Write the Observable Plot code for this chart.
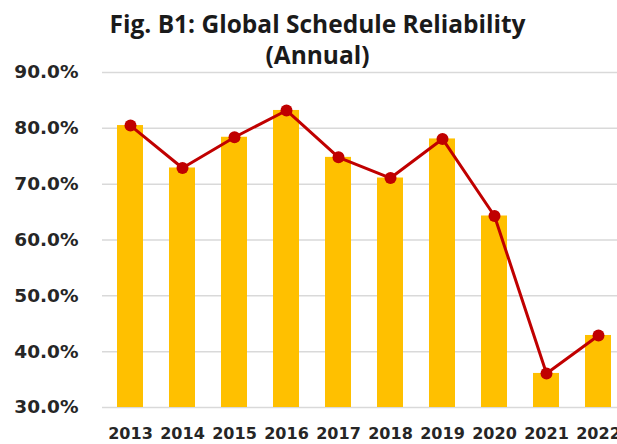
<!DOCTYPE html>
<html>
<head>
<meta charset="utf-8">
<script src="https://cdn.jsdelivr.net/npm/d3@7"></script>
<script src="https://cdn.jsdelivr.net/npm/@observablehq/plot@0.6"></script>
<style>
  html, body { margin: 0; padding: 0; background: #fff; overflow: hidden; width: 617px; height: 444px; }
  #title { width: 617px; height: 64px; box-sizing: border-box; padding-top: 8px; padding-left: 18px;
    text-align: center; font-family: "Open Sans", sans-serif; font-weight: bold; font-size: 24.5px;
    line-height: 31px; color: #1a1a1a; white-space: nowrap; }
  #chart svg { display: block; overflow: visible; }
</style>
</head>
<body>
<div id="title">Fig. B1: Global Schedule Reliability<br>(Annual)</div>
<div id="chart"></div>
<script>
const years = ["2013","2014","2015","2016","2017","2018","2019","2020","2021","2022"];
const reliability = [80.5, 72.9, 78.4, 83.2, 74.8, 71.1, 78.1, 64.3, 36.1, 42.9];
const yTicks = [30, 40, 50, 60, 70, 80, 90];

const data = years.map((y, i) => ({year: y, value: reliability[i]}));

const chart = Plot.plot({
  width: 617,
  height: 380,
  marginLeft: 102,
  marginRight: 0,
  marginTop: 8,
  marginBottom: 37,
  style: {background: "transparent", overflow: "visible"},
  x: {domain: years, paddingInner: 0.5, paddingOuter: 0.25, range: [102, 626], label: null, axis: null},
  y: {domain: [30, 90], label: null, axis: null},
  marks: [
    Plot.ruleY(yTicks, {stroke: "#d9d9d9", strokeWidth: 1.5}),
    Plot.barY(data, {x: "year", y1: 30, y2: "value", fill: "#FFC000"}),
    Plot.line(data, {x: "year", y: "value", stroke: "#C00000", strokeWidth: 3}),
    Plot.dot(data, {x: "year", y: "value", r: 6, fill: "#C00000", stroke: "none"}),
    Plot.axisY(yTicks, {tickSize: 0, tickPadding: 24, tickFormat: d => d.toFixed(1) + "%",
      fontFamily: "DejaVu Sans", fontWeight: "bold", fontSize: 18.5, fill: "#262626"}),
    Plot.axisX({tickSize: 0, tickPadding: 20, fontFamily: "DejaVu Sans", fontWeight: "bold",
      fontSize: 16, fill: "#262626"})
  ]
});
document.getElementById("chart").appendChild(chart);
</script>
</body>
</html>
